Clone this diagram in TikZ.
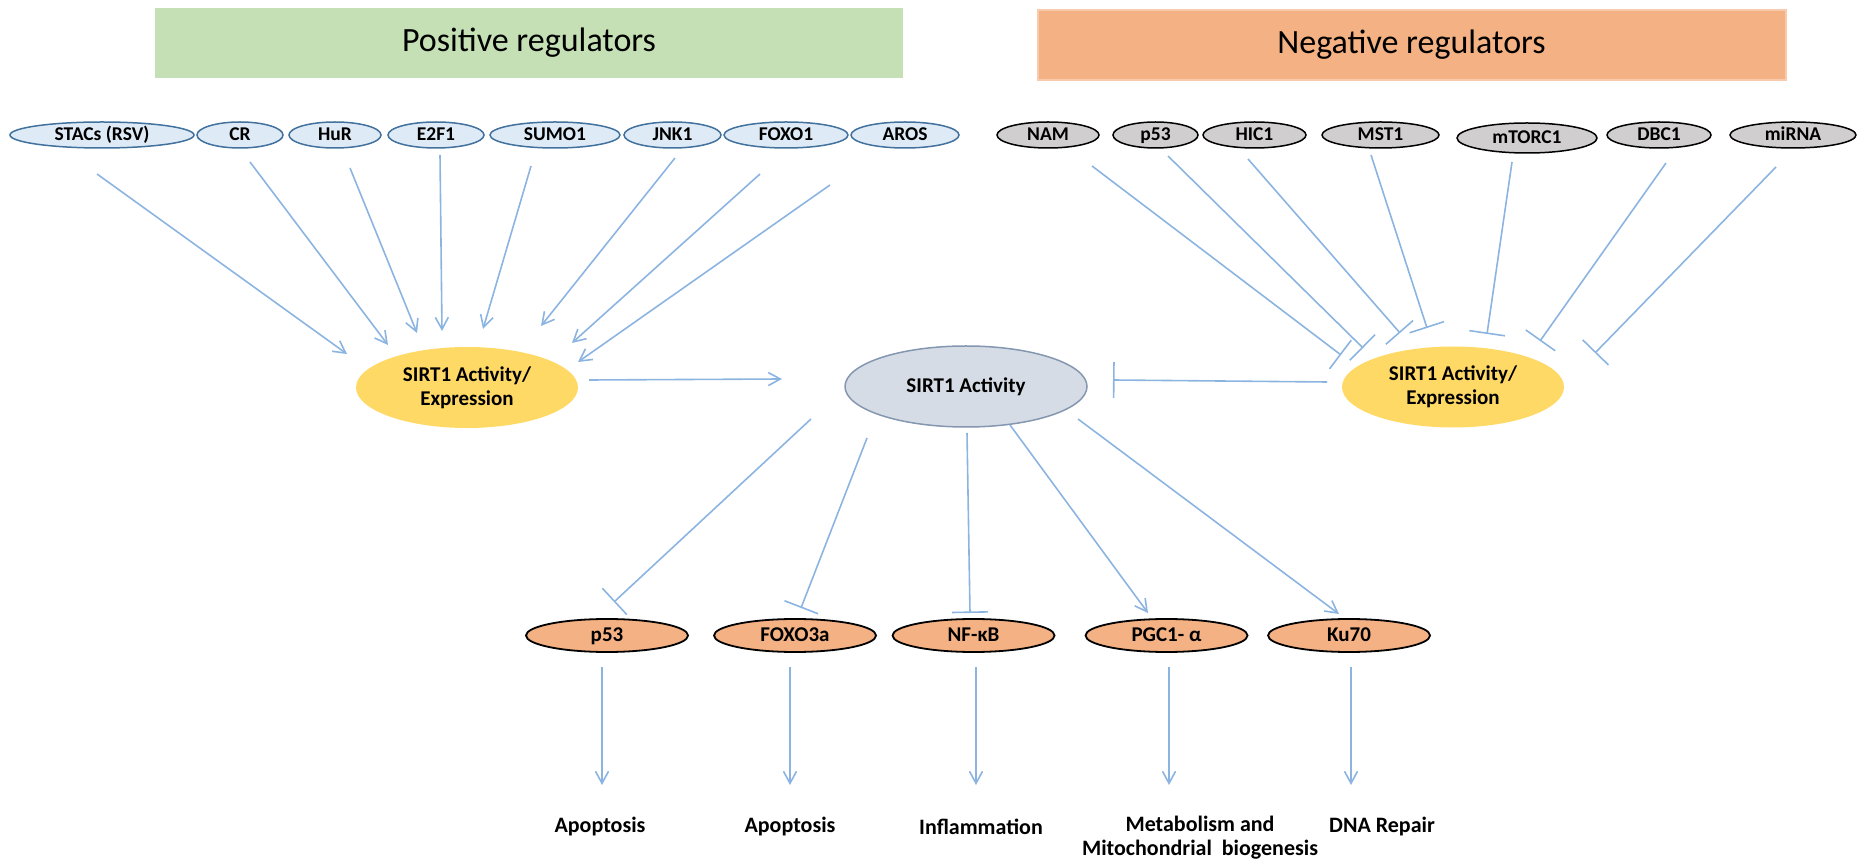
\documentclass[tikz,border=0pt]{standalone}
\usepackage{fontspec}
\setmainfont{Carlito}
\usetikzlibrary{shapes.geometric,arrows.meta}

\definecolor{posfill}{RGB}{197,224,180}
\definecolor{negfill}{RGB}{244,177,131}
\definecolor{negedge}{RGB}{248,203,173}
\definecolor{regfill}{RGB}{222,235,247}
\definecolor{regedge}{RGB}{65,113,156}
\definecolor{grayfill}{RGB}{208,206,206}
\definecolor{sirtyellow}{RGB}{255,217,102}
\definecolor{sirtfill}{RGB}{214,220,229}
\definecolor{sirtedge}{RGB}{132,151,176}
\definecolor{linkblue}{RGB}{140,180,225}

\tikzset{
  header/.style={rectangle, inner sep=0pt, minimum width=374pt, minimum height=35pt,
    font=\fontsize{17}{20}\selectfont},
  regbase/.style={ellipse, inner sep=0pt, minimum height=13pt, line width=0.75pt,
    text height=1.5ex, text depth=0.3ex, font=\bfseries\fontsize{9.75}{11}\selectfont},
  posreg/.style={regbase, draw=regedge, fill=regfill},
  negreg/.style={regbase, draw=black, fill=grayfill},
  sirtex/.style={ellipse, inner sep=0pt, fill=sirtyellow, minimum width=111pt,
    minimum height=40.5pt, align=center, font=\bfseries\fontsize{10.5}{12}\selectfont},
  sirtmain/.style={ellipse, inner sep=0pt, fill=sirtfill, draw=sirtedge, line width=0.75pt,
    minimum width=121pt, minimum height=40.5pt, font=\bfseries\fontsize{10.5}{12}\selectfont},
  target/.style={ellipse, inner sep=0pt, fill=negfill, draw=black, line width=0.9pt,
    minimum width=81pt, minimum height=16.5pt, text height=1.5ex, text depth=0.3ex,
    font=\bfseries\fontsize{10.5}{12}\selectfont},
  outcome/.style={inner sep=0pt, align=center, font=\bfseries\fontsize{11}{12}\selectfont},
  act/.style={draw=linkblue, line width=0.8pt, -{Straight Barb[length=6pt,width=6.5pt]}},
  inh/.style={draw=linkblue, line width=0.8pt, -{Bar[width=18pt]}},
}

\begin{document}
\begin{tikzpicture}[x=0.5pt, y=-0.5pt]
\useasboundingbox (0,0) rectangle (1858,865);

% headers
\node[header, fill=posfill] (poshead) at (529,43) {Positive regulators};
\node[header, fill=negfill, draw=negedge, line width=1pt] (neghead) at (1411.5,45) {Negative regulators};

% positive regulators
\node[posreg, minimum width=92pt] (stacs) at (102,135) {STACs (RSV)};
\node[posreg, minimum width=43pt] (cr) at (240,135) {CR};
\node[posreg, minimum width=46pt] (hur) at (335,135) {HuR};
\node[posreg, minimum width=48pt] (e2f) at (436,135) {E2F1};
\node[posreg, minimum width=65pt] (sumo) at (555,135) {SUMO1};
\node[posreg, minimum width=48.5pt] (jnk) at (672.5,135) {JNK1};
\node[posreg, minimum width=62pt] (foxa) at (786,135) {FOXO1};
\node[posreg, minimum width=54pt] (aros) at (905,135) {AROS};

% negative regulators
\node[negreg, minimum width=51pt] (nam) at (1048,135) {NAM};
\node[negreg, minimum width=42.5pt] (pneg) at (1155.5,135) {p53};
\node[negreg, minimum width=51.5pt] (hic) at (1254.5,135) {HIC1};
\node[negreg, minimum width=58.5pt] (mst) at (1380.5,135) {MST1};
\node[negreg, minimum width=70pt, minimum height=15pt] (mtor) at (1527,138) {mTORC1};
\node[negreg, minimum width=52pt] (dbc) at (1659,135) {DBC1};
\node[negreg, minimum width=63pt] (mir) at (1793,135) {miRNA};

% SIRT1 nodes
\node[sirtex] (ly) at (467,387.5) {SIRT1 Activity/\\Expression};
\node[sirtmain] (core) at (966,386.5) {SIRT1 Activity};
\node[sirtex] (ry) at (1453,387) {SIRT1 Activity/\\Expression};

% downstream targets
\node[target] (tp53) at (607,635.5) {p53};
\node[target] (tfox) at (795,635.5) {FOXO3a};
\node[target] (tnfk) at (973.5,635.5) {NF-κB};
\node[target] (tpgc) at (1166.5,635.5) {PGC1- α};
\node[target] (tku) at (1349,635.5) {Ku70};

% outcomes
\node[outcome] (o1) at (600,827) {Apoptosis};
\node[outcome] (o2) at (790,827) {Apoptosis};
\node[outcome] (o3) at (981,827) {Inflammation};
\node[outcome] (o4) at (1200,838) {Metabolism and\\Mitochondrial\ \ biogenesis};
\node[outcome] (o5) at (1382,827) {DNA Repair};

% activators -> SIRT1 activity/expression
\draw[act] ([shift={(-5,39)}]stacs.center) -- ([shift={(-120,-33.5)}]ly.center);
\draw[act] ([shift={(10,27)}]cr.center) -- ([shift={(-79,-42.5)}]ly.center);
\draw[act] ([shift={(15,33)}]hur.center) -- ([shift={(-50,-54.5)}]ly.center);
\draw[act] ([shift={(4,20)}]e2f.center) -- ([shift={(-25,-56.5)}]ly.center);
\draw[act] ([shift={(-24,31)}]sumo.center) -- ([shift={(16,-58.5)}]ly.center);
\draw[act] ([shift={(2.5,23)}]jnk.center) -- ([shift={(74,-61.5)}]ly.center);
\draw[act] ([shift={(-26,39)}]foxa.center) -- ([shift={(105,-44.5)}]ly.center);
\draw[act] ([shift={(-75,50)}]aros.center) -- ([shift={(111,-25.5)}]ly.center);

% inhibitors -> SIRT1 activity/expression
\draw[inh] ([shift={(44,31)}]nam.center) -- ([shift={(-112,-32)}]ry.center);
\draw[inh] ([shift={(12.5,21)}]pneg.center) -- ([shift={(-90,-39)}]ry.center);
\draw[inh] ([shift={(-6.5,24)}]hic.center) -- ([shift={(-53,-54)}]ry.center);
\draw[inh] ([shift={(-9.5,20)}]mst.center) -- ([shift={(-26,-59)}]ry.center);
\draw[inh] ([shift={(-15,24)}]mtor.center) -- ([shift={(34,-53)}]ry.center);
\draw[inh] ([shift={(7,28)}]dbc.center) -- ([shift={(87,-46)}]ry.center);
\draw[inh] ([shift={(-17,32)}]mir.center) -- ([shift={(142,-34)}]ry.center);

% expression -> core activity
\draw[act] ([shift={(122,-7.5)}]ly.center) -- ([shift={(-184,-7.5)}]core.center);
\draw[inh] ([shift={(-126,-5)}]ry.center) -- ([shift={(147,-6.5)}]core.center);

% core activity -> targets
\draw[inh] ([shift={(-155,32.5)}]core.center) -- ([shift={(7,-33.5)}]tp53.center);
\draw[inh] ([shift={(-99,51.5)}]core.center) -- ([shift={(6,-27.5)}]tfox.center);
\draw[inh] ([shift={(1,46.5)}]core.center) -- ([shift={(-3.5,-22.5)}]tnfk.center);
\draw[act] ([shift={(44,38.5)}]core.center) -- ([shift={(-18.5,-22.5)}]tpgc.center);
\draw[act] ([shift={(112,32.5)}]core.center) -- ([shift={(-10,-21.5)}]tku.center);

% targets -> outcomes
\draw[act] ([shift={(-5,31.5)}]tp53.center) -- ([shift={(2,-42)}]o1.center);
\draw[act] ([shift={(-5,31.5)}]tfox.center) -- ([shift={(0,-42)}]o2.center);
\draw[act] ([shift={(2.5,31.5)}]tnfk.center) -- ([shift={(-5,-42)}]o3.center);
\draw[act] ([shift={(2.5,31.5)}]tpgc.center) -- ([shift={(-31,-53)}]o4.center);
\draw[act] ([shift={(2,31.5)}]tku.center) -- ([shift={(-31,-42)}]o5.center);
\end{tikzpicture}
\end{document}
